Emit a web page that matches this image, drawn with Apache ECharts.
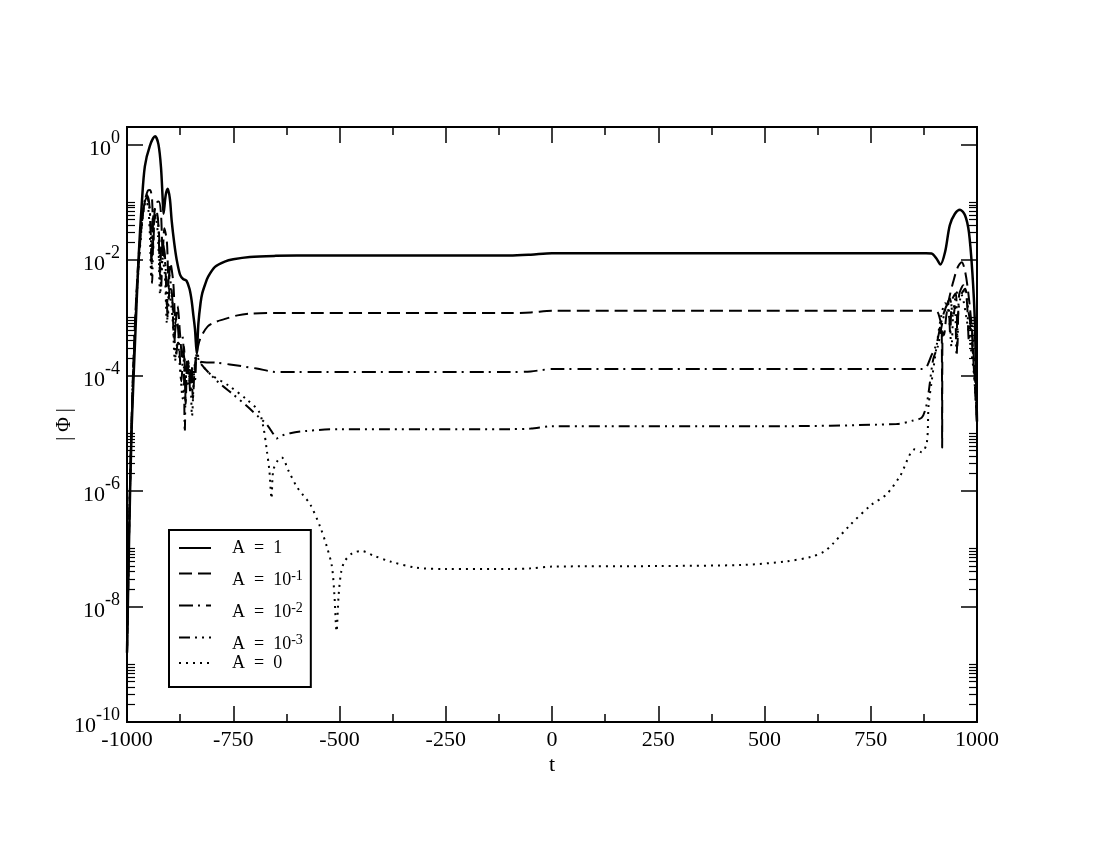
<!DOCTYPE html>
<html>
<head>
<meta charset="utf-8">
<script src="https://cdn.jsdelivr.net/npm/echarts@6/dist/echarts.min.js"></script>
<style>html,body{margin:0;padding:0;background:#fff}#c{width:1100px;height:850px}</style>
</head>
<body>
<div id="c"></div>
<script>
// ---- data: [t, log10|Phi|] ----
const logPhiA1 = [[-1000,-8.8],[-995,-6.8],[-989,-4.9],[-981,-3.4],[-973,-2.0],[-965,-1.0],[-958,-0.38],[-946,-0.02],[-934,0.14],[-926,0.0],[-920,-0.4],[-916,-0.95],[-914,-1.2],[-909,-0.88],[-904,-0.77],[-899,-0.95],[-895,-1.31],[-889,-1.7],[-883,-2.0],[-875,-2.26],[-868,-2.33],[-860,-2.36],[-853,-2.5],[-848,-2.7],[-844,-2.95],[-840,-3.2],[-836,-3.62],[-832,-3.1],[-827,-2.75],[-823,-2.58],[-816,-2.42],[-809,-2.29],[-793,-2.12],[-770,-2.03],[-750,-1.99],[-711,-1.95],[-650,-1.93],[-600,-1.925],[-300,-1.925],[-100,-1.925],[-50,-1.91],[0,-1.885],[500,-1.885],[880,-1.885],[893,-1.89],[905,-1.98],[914,-2.08],[925,-1.86],[936,-1.4],[948,-1.2],[960,-1.13],[972,-1.23],[981,-1.52],[989,-2.21],[995,-3.08],[1000,-4.8]];
const logPhiA01 = [[-1000,-8.8],[-994,-6.3],[-987,-4.2],[-978,-2.6],[-968,-1.5],[-958,-0.98],[-951,-0.8],[-946,-0.79],[-941,-0.95],[-938,-1.8],[-935,-1.15],[-929,-1.0],[-925,-0.99],[-920,-1.2],[-916,-1.9],[-912,-1.45],[-906,-1.7],[-902,-2.5],[-898,-2.05],[-891,-2.4],[-886,-3.1],[-881,-2.8],[-875,-3.3],[-870,-3.7],[-866,-3.5],[-862,-4.5],[-858,-3.7],[-853,-4.1],[-849,-3.85],[-845,-4.4],[-841,-3.9],[-836,-3.62],[-828,-3.37],[-810,-3.15],[-790,-3.07],[-773,-3.03],[-740,-2.96],[-711,-2.93],[-650,-2.92],[-300,-2.92],[-100,-2.92],[-50,-2.91],[0,-2.88],[500,-2.88],[880,-2.88],[905,-2.89],[912,-3.0],[917,-3.2],[918,-5.25],[919,-3.25],[922,-3.3],[928,-2.95],[935,-2.65],[944,-2.38],[955,-2.12],[964,-2.04],[972,-2.2],[980,-2.6],[988,-3.2],[994,-3.9],[1000,-4.8]];
const logPhiA001 = [[-1000,-8.8],[-994,-6.3],[-987,-4.3],[-978,-2.7],[-968,-1.6],[-960,-1.05],[-954,-0.87],[-949,-0.95],[-945,-1.3],[-942,-2.1],[-939,-1.3],[-933,-1.1],[-927,-1.3],[-922,-2.3],[-918,-1.65],[-911,-1.9],[-906,-2.8],[-901,-2.25],[-894,-2.6],[-889,-3.4],[-883,-3.0],[-877,-3.5],[-872,-4.1],[-867,-3.6],[-861,-3.95],[-856,-3.75],[-851,-4.3],[-846,-3.85],[-841,-4.0],[-836,-3.63],[-828,-3.76],[-790,-3.78],[-758,-3.81],[-695,-3.88],[-648,-3.94],[-300,-3.94],[-100,-3.94],[-50,-3.93],[0,-3.89],[500,-3.89],[870,-3.89],[880,-3.87],[893,-3.65],[905,-3.45],[915,-3.1],[925,-2.85],[932,-2.75],[937,-3.3],[941,-2.7],[950,-2.58],[954,-3.5],[958,-2.6],[968,-2.44],[976,-2.7],[981,-3.4],[986,-3.0],[992,-3.8],[1000,-4.8]];
const logPhiA0001 = [[-1000,-8.8],[-994,-6.3],[-987,-4.3],[-978,-2.7],[-968,-1.6],[-960,-1.05],[-953,-0.92],[-948,-1.05],[-944,-1.5],[-941,-2.4],[-937,-1.4],[-931,-1.2],[-925,-1.5],[-920,-2.5],[-915,-1.85],[-909,-2.15],[-904,-3.0],[-899,-2.45],[-891,-2.9],[-885,-3.7],[-879,-3.35],[-871,-3.3],[-867,-3.55],[-864,-4.98],[-861,-3.9],[-856,-3.8],[-850,-4.15],[-845,-3.9],[-840,-4.08],[-836,-3.63],[-828,-3.78],[-789,-4.09],[-750,-4.33],[-718,-4.53],[-690,-4.72],[-671,-4.85],[-655,-5.02],[-648,-5.09],[-635,-5.04],[-616,-5.0],[-577,-4.96],[-500,-4.93],[-100,-4.93],[-50,-4.92],[0,-4.88],[500,-4.88],[811,-4.84],[850,-4.78],[870,-4.73],[880,-4.55],[886,-4.3],[897,-3.72],[908,-3.49],[918,-3.1],[928,-2.8],[936,-2.67],[944,-3.0],[948,-2.8],[952,-3.66],[956,-2.9],[963,-2.6],[972,-2.5],[980,-2.9],[984,-3.08],[990,-3.6],[995,-4.0],[1000,-4.8]];
const logPhiA0 = [[-1000,-8.8],[-994,-6.3],[-987,-4.3],[-978,-2.75],[-968,-1.65],[-961,-1.15],[-955,-0.98],[-950,-1.1],[-946,-1.6],[-943,-2.3],[-939,-1.45],[-933,-1.25],[-927,-1.6],[-922,-2.6],[-917,-1.95],[-911,-2.25],[-906,-3.1],[-901,-2.55],[-893,-3.0],[-887,-3.75],[-881,-3.4],[-875,-3.9],[-869,-4.4],[-864,-3.85],[-858,-4.2],[-852,-3.95],[-847,-4.7],[-842,-3.95],[-836,-3.63],[-820,-3.85],[-800,-4.0],[-760,-4.18],[-718,-4.42],[-690,-4.62],[-679,-4.9],[-671,-5.3],[-665,-5.65],[-660,-6.13],[-656,-5.65],[-646,-5.48],[-636,-5.42],[-620,-5.65],[-601,-5.92],[-585,-6.08],[-569,-6.23],[-546,-6.61],[-530,-6.96],[-518,-7.3],[-512,-7.8],[-507,-8.43],[-502,-7.8],[-496,-7.4],[-488,-7.22],[-470,-7.08],[-448,-7.04],[-420,-7.12],[-381,-7.22],[-318,-7.33],[-250,-7.35],[-100,-7.35],[-50,-7.34],[0,-7.31],[250,-7.3],[450,-7.28],[550,-7.22],[610,-7.14],[640,-7.05],[660,-6.92],[700,-6.6],[750,-6.25],[787,-6.06],[819,-5.74],[854,-5.28],[870,-5.33],[882,-5.16],[886,-4.53],[893,-4.12],[905,-3.49],[915,-3.0],[925,-2.75],[933,-2.9],[940,-3.5],[945,-2.85],[955,-2.55],[965,-2.62],[975,-3.0],[985,-3.5],[993,-4.0],[1000,-4.8]];

const seriesNames = ['A  =  1', 'A  =  10^-1', 'A  =  10^-2', 'A  =  10^-3', 'A  =  0'];
const xTicks = [-1000, -750, -500, -250, 0, 250, 500, 750, 1000];
const xTickLabels = ['-1000', '-750', '-500', '-250', '0', '250', '500', '750', '1000'];
const yTickValues = [1e-10, 1e-8, 1e-6, 1e-4, 1e-2, 1];
const yTickExponents = ['-10', '-8', '-6', '-4', '-2', '0'];
const yMinorTickValues = [
  2e-10,3e-10,4e-10,5e-10,6e-10,7e-10,8e-10,9e-10,1e-9,
  2e-8,3e-8,4e-8,5e-8,6e-8,7e-8,8e-8,9e-8,1e-7,
  2e-6,3e-6,4e-6,5e-6,6e-6,7e-6,8e-6,9e-6,1e-5,
  2e-4,3e-4,4e-4,5e-4,6e-4,7e-4,8e-4,9e-4,1e-3,
  2e-2,3e-2,4e-2,5e-2,6e-2,7e-2,8e-2,9e-2,1e-1
];

const FONT = 'Liberation Serif';
const toData = arr => arr.map(p => [p[0], Math.pow(10, p[1])]);

const yLabel = value => {
  const lv = Math.log10(value);
  const i = yTickValues.findIndex(v => Math.abs(Math.log10(v) - lv) < 1e-6);
  return i < 0 ? '' : '{b|10}{s|' + yTickExponents[i] + '}';
};

const chart = echarts.init(document.getElementById('c'), null, {renderer: 'canvas'});

const baseY = {
  type: 'log', logBase: 10, min: 1e-10, max: 2,
  splitLine: {show: false},
  axisLine: {show: true, onZero: false, lineStyle: {color: '#000', width: 2}},
  nameMoveOverlap: false
};

const styles = [
  {type: 'solid', width: 2.5},
  {type: [13, 6], width: 2},
  {type: [14, 5, 2, 6], width: 2},
  {type: [11, 5, 2, 5, 2, 5], width: 2},
  {type: [2, 5], width: 2}
];
const dataSets = [logPhiA1, logPhiA01, logPhiA001, logPhiA0001, logPhiA0];

chart.setOption({
  animation: false,
  backgroundColor: '#fff',
  textStyle: {fontFamily: FONT, color: '#000'},
  grid: {left: 127, right: 123, top: 127, bottom: 128, containLabel: false, outerBoundsMode: 'none'},
  xAxis: [
    {
      type: 'value', min: -1000, max: 1000, interval: 250, position: 'bottom',
      name: 't', nameLocation: 'middle', nameGap: 32, nameMoveOverlap: false,
      nameTextStyle: {fontFamily: FONT, fontSize: 22, color: '#000'},
      axisLine: {show: true, onZero: false, lineStyle: {color: '#000', width: 2}},
      axisTick: {show: true, inside: true, length: 16, lineStyle: {color: '#000', width: 1.5}},
      minorTick: {show: true, splitNumber: 2, length: 8, lineStyle: {color: '#000', width: 1.5}},
      splitLine: {show: false}, minorSplitLine: {show: false},
      axisLabel: {
        show: true, margin: 7, fontFamily: FONT, fontSize: 22, color: '#000',
        showMinLabel: true, showMaxLabel: true, hideOverlap: false,
        formatter: v => { const i = xTicks.indexOf(v); return i < 0 ? '' : xTickLabels[i]; }
      }
    },
    {
      type: 'value', min: -1000, max: 1000, interval: 250, position: 'top',
      axisLine: {show: true, onZero: false, lineStyle: {color: '#000', width: 2}},
      axisTick: {show: true, inside: true, length: 16, lineStyle: {color: '#000', width: 1.5}},
      minorTick: {show: true, splitNumber: 2, length: 8, lineStyle: {color: '#000', width: 1.5}},
      splitLine: {show: false}, axisLabel: {show: false}
    }
  ],
  yAxis: [
    Object.assign({}, baseY, {
      position: 'left',
      name: '| Φ |', nameLocation: 'middle', nameGap: 52,
      nameTextStyle: {fontFamily: FONT, fontSize: 20, color: '#000'},
      axisTick: {show: true, inside: true, length: 16, customValues: yTickValues, lineStyle: {color: '#000', width: 1.5}},
      axisLabel: {
        show: true, margin: 7, customValues: yTickValues, hideOverlap: false,
        formatter: yLabel,
        rich: {
          b: {fontFamily: FONT, fontSize: 22, color: '#000', padding: [9, 0, 0, 0]},
          s: {fontFamily: FONT, fontSize: 18, color: '#000', verticalAlign: 'top'}
        }
      }
    }),
    Object.assign({}, baseY, {
      position: 'left',
      axisTick: {show: true, inside: true, length: 8, customValues: yMinorTickValues, lineStyle: {color: '#000', width: 1.2}},
      axisLabel: {show: false}
    }),
    Object.assign({}, baseY, {
      position: 'right',
      axisTick: {show: true, inside: true, length: 16, customValues: yTickValues, lineStyle: {color: '#000', width: 1.5}},
      axisLabel: {show: false}
    }),
    Object.assign({}, baseY, {
      position: 'right',
      axisTick: {show: true, inside: true, length: 8, customValues: yMinorTickValues, lineStyle: {color: '#000', width: 1.2}},
      axisLabel: {show: false}
    })
  ],
  legend: {
    show: true, orient: 'vertical', left: 169, top: 530,
    padding: [9, 8, 15, 9], itemGap: 1, itemWidth: 32, itemHeight: 8,
    borderColor: '#000', borderWidth: 2, backgroundColor: '#fff',
    selectedMode: false,
    itemStyle: {color: 'rgba(0,0,0,0)', borderWidth: 0, borderColor: 'rgba(0,0,0,0)'},
    data: seriesNames,
    formatter: name => {
      const k = name.indexOf('^');
      if (k < 0) return '{n|' + name + '}';
      return '{b|' + name.slice(0, k) + '}{s|' + name.slice(k + 1) + '}';
    },
    textStyle: {
      fontFamily: FONT, fontSize: 18, color: '#000',
      rich: {
        n: {fontFamily: FONT, fontSize: 18, color: '#000', lineHeight: 18, padding: [0, 0, 0, 16]},
        b: {fontFamily: FONT, fontSize: 18, color: '#000', lineHeight: 18, padding: [13, 0, 0, 16]},
        s: {fontFamily: FONT, fontSize: 14, color: '#000', verticalAlign: 'top', padding: [5, 0, 0, 0]}
      }
    }
  },
  series: dataSets.map((d, i) => ({
    name: seriesNames[i], type: 'line', xAxisIndex: 0, yAxisIndex: 0,
    data: toData(d), showSymbol: false, symbol: 'none', smooth: 0.3,
    silent: true, clip: true,
    lineStyle: {color: '#000', width: styles[i].width, type: styles[i].type},
    itemStyle: {color: '#000'},
    emphasis: {disabled: true}
  }))
});
</script>
</body>
</html>
